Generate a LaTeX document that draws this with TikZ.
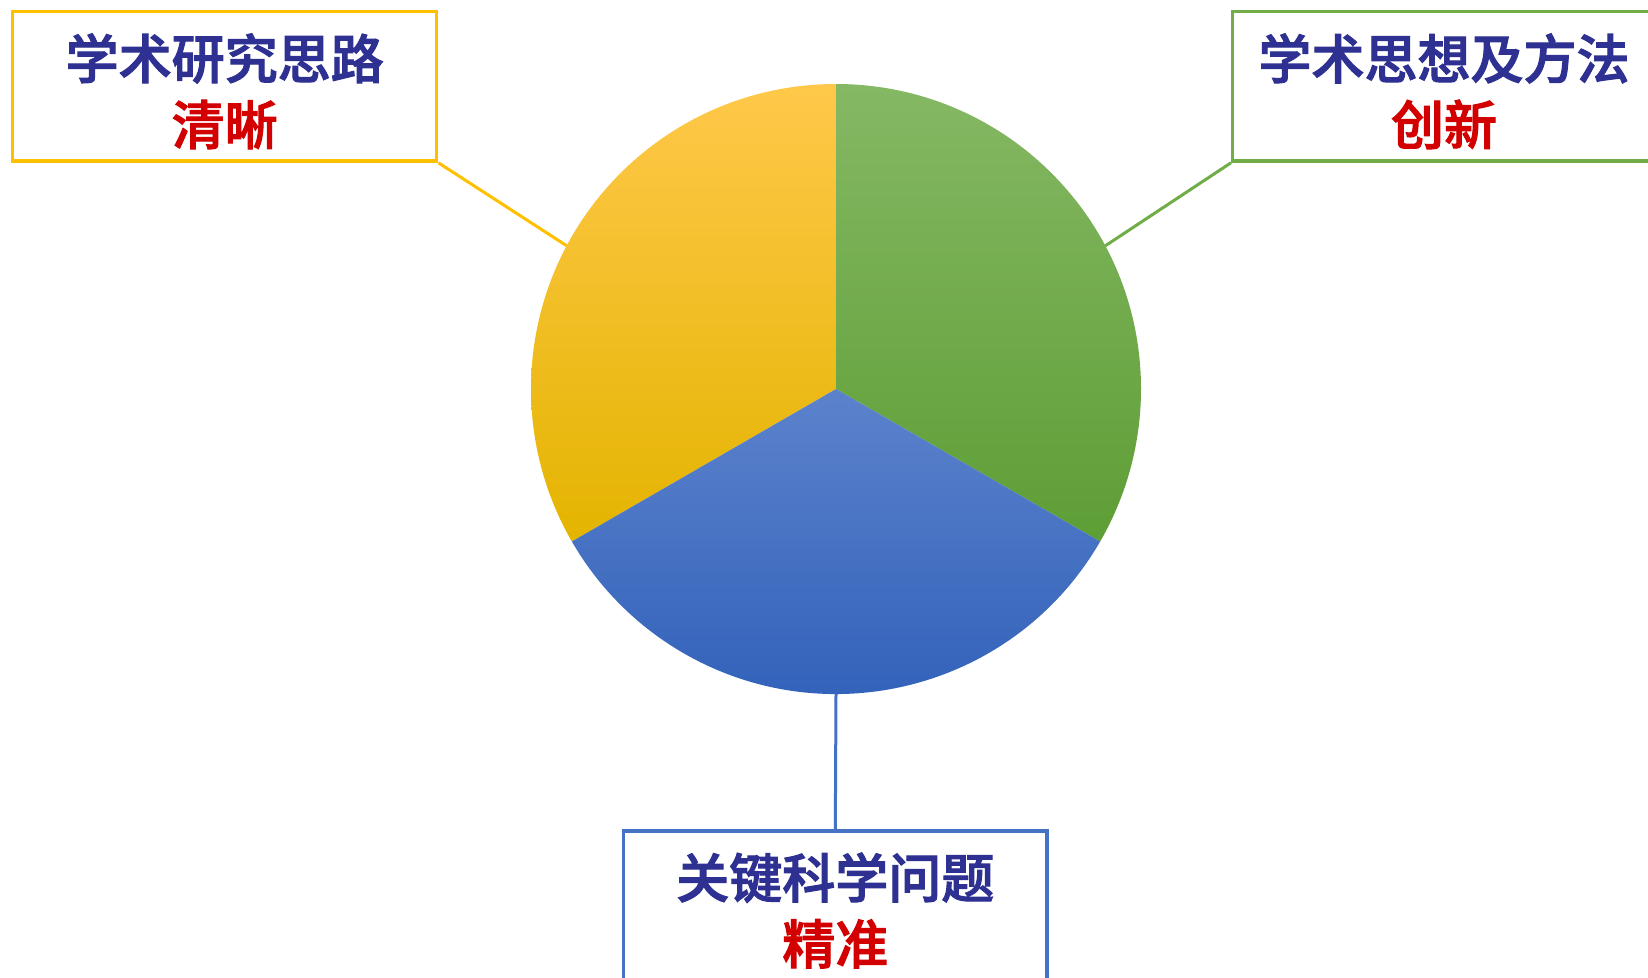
\documentclass[tikz,border=0pt]{standalone}
\usepackage{fontspec}
\newfontfamily\cjk{Noto Sans CJK SC}[UprightFont=* Medium, UprightFeatures={FakeBold=2}]
\definecolor{tblue}{RGB}{46,49,146}
\definecolor{tred}{RGB}{210,0,0}
\definecolor{ylw}{RGB}{255,192,0}
\definecolor{grn}{RGB}{112,173,71}
\definecolor{blu}{RGB}{68,114,196}
\definecolor{ytop}{RGB}{255,200,74}
\definecolor{ymid}{RGB}{255,198,0}
\definecolor{ybot}{RGB}{228,180,0}
\definecolor{gtop}{RGB}{133,184,100}
\definecolor{gbot}{RGB}{94,158,53}
\definecolor{btop}{RGB}{92,130,204}
\definecolor{bbot}{RGB}{45,94,184}
\tikzset{
  labelbox/.style={draw, line width=3.5pt, fill=white, inner sep=0pt,
    minimum width=424pt, minimum height=149.5pt},
  labeltext/.style={inner sep=0pt, align=center,
    font=\cjk\fontsize{53}{66}\selectfont},
  conn/.style={line width=3pt}
}
\begin{document}
\begin{tikzpicture}[x=1pt,y=-1pt]
\useasboundingbox (0,0) rectangle (1648,977);
\fill[white] (0,0) rectangle (1648,977);
\coordinate (c) at (836,389);
\coordinate (lp) at (566.7,245.8);
\coordinate (rp) at (1105.3,245.8);
\coordinate (bp) at (836,694);
% boxes
\node[labelbox, draw=ylw] (lb) at (224.7,86.3) {};
\node[labelbox, draw=grn, minimum width=422.6pt] (rb) at (1444,86.3) {};
\node[labelbox, draw=blu, minimum width=423.7pt] (bb) at (835.3,905.5) {};
\node[labeltext] (lt) at ([yshift=-5pt]lb.center) {\textcolor{tblue}{学术研究思路}\\\textcolor{tred}{清晰}};
\node[labeltext] (rt) at ([yshift=-5pt]rb.center) {\textcolor{tblue}{学术思想及方法}\\\textcolor{tred}{创新}};
\node[labeltext] (bt) at ([yshift=-5pt]bb.center) {\textcolor{tblue}{关键科学问题}\\\textcolor{tred}{精准}};
% connectors
\draw[conn, ylw] (lb.south east) -- (lp);
\draw[conn, grn] (rb.south west) -- (rp);
\draw[conn, blu] (bb.north) -- (bp);
% pie sectors (angles flipped because y points down)
\shade[top color=ytop, middle color=ymid, bottom color=ybot]
  (c) -- ++(-90:305) arc[start angle=-90, end angle=-210, radius=305] -- cycle;
\shade[top color=gtop, bottom color=gbot]
  (c) -- ++(-90:305) arc[start angle=-90, end angle=30, radius=305] -- cycle;
\shade[top color=btop, bottom color=bbot]
  (c) -- ++(30:305) arc[start angle=30, end angle=150, radius=305] -- cycle;
\end{tikzpicture}
\end{document}
